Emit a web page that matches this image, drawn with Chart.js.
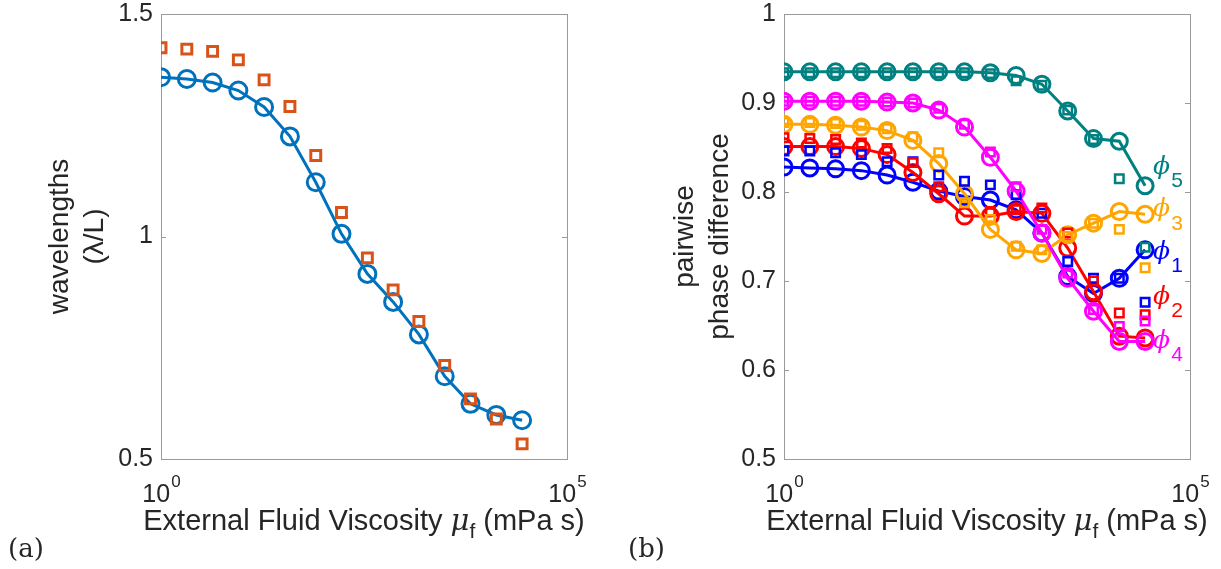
<!DOCTYPE html>
<html>
<head>
<meta charset="utf-8">
<script src="https://cdn.jsdelivr.net/npm/chart.js@4.4.1/dist/chart.umd.min.js"></script>
<style>
  html, body { margin: 0; padding: 0; background: #fff; }
  #wrap { position: relative; width: 1221px; height: 569px; overflow: hidden; }
  .panel { position: absolute; top: 0; }
  #left { left: 0; }
  #right { left: 615px; }
</style>
</head>
<body>
<div id="wrap">
  <div class="panel" id="left"><canvas id="chart-a" width="615" height="569"></canvas></div>
  <div class="panel" id="right"><canvas id="chart-b" width="606" height="569"></canvas></div>
</div>
<script>
// ---------------------------------------------------------------- data
const viscosity = [1, 2.08, 4.32, 8.97, 18.6, 38.7, 80.5, 167, 348, 722, 1500, 3120, 6480, 13470, 28000];

// panel (a): wavelengths
const waveModel = [1.358, 1.354, 1.346, 1.328, 1.291, 1.225, 1.122, 1.006, 0.916, 0.853, 0.780, 0.686, 0.624, 0.599, 0.587];
const waveExp   = [1.424, 1.421, 1.416, 1.397, 1.352, 1.292, 1.182, 1.054, 0.952, 0.880, 0.809, 0.710, 0.635, 0.590, 0.534];

// panel (b): pairwise phase differences (circles = model, squares = experiment)
const phi1Model = [0.828, 0.827, 0.826, 0.824, 0.819, 0.811, 0.801, 0.795, 0.791, 0.780, 0.754, 0.705, 0.686, 0.703, 0.735];
const phi1Exp   = [0.846, 0.846, 0.844, 0.842, 0.834, 0.834, 0.819, 0.812, 0.808, 0.797, 0.776, 0.722, 0.703, 0.703, 0.676];
const phi2Model = [0.851, 0.851, 0.851, 0.849, 0.842, 0.822, 0.798, 0.773, 0.773, 0.778, 0.776, 0.737, 0.688, 0.638, 0.636];
const phi2Exp   = [0.861, 0.860, 0.859, 0.855, 0.849, 0.833, 0.806, 0.788, 0.778, 0.780, 0.782, 0.754, 0.700, 0.664, 0.662];
const phi3Model = [0.876, 0.876, 0.875, 0.873, 0.869, 0.858, 0.832, 0.798, 0.758, 0.735, 0.731, 0.752, 0.765, 0.778, 0.775];
const phi3Exp   = [0.878, 0.878, 0.877, 0.875, 0.871, 0.862, 0.844, 0.788, 0.769, 0.739, 0.735, 0.750, 0.765, 0.758, 0.715];
const phi4Model = [0.902, 0.902, 0.902, 0.902, 0.901, 0.900, 0.892, 0.873, 0.839, 0.801, 0.754, 0.703, 0.666, 0.632, 0.632];
const phi4Exp   = [0.902, 0.902, 0.902, 0.902, 0.901, 0.900, 0.894, 0.876, 0.845, 0.806, 0.758, 0.709, 0.668, 0.649, 0.655];
const phi5Model = [0.935, 0.935, 0.935, 0.935, 0.935, 0.935, 0.935, 0.935, 0.934, 0.931, 0.921, 0.891, 0.860, 0.857, 0.807];
const phi5Exp   = [0.934, 0.934, 0.934, 0.934, 0.934, 0.934, 0.934, 0.934, 0.933, 0.925, 0.920, 0.892, 0.859, 0.815, 0.738];

// label positions for the phi tags (value on the y axis next to last point)
const phiLabels = [
  { n: '5', y: 0.828, color: '#008080' },
  { n: '3', y: 0.780, color: '#FFA500' },
  { n: '1', y: 0.732, color: '#0000FF' },
  { n: '2', y: 0.682, color: '#FF0000' },
  { n: '4', y: 0.632, color: '#FF00FF' },
];

const pts = (ys) => ys.map((y, i) => ({ x: viscosity[i], y }));
const INK = '#262626';
const SANS = "'Liberation Sans', Arial, sans-serif";

/*------------------------------------------------ helpers ---------------------------------------------------*/
function circles(ys, color, r = 8.5, w = 3) {
  return {
    type: 'line', data: pts(ys), borderColor: color, borderWidth: w,
    pointStyle: 'circle', pointRadius: r, pointHoverRadius: r,
    pointBorderColor: color, pointBackgroundColor: 'rgba(0,0,0,0)', pointBorderWidth: w,
    tension: 0, fill: false
  };
}
function squares(ys, color, r = 7, w = 3) {
  return {
    type: 'line', data: pts(ys), showLine: false, borderColor: color,
    pointStyle: 'rect', pointRadius: r, pointHoverRadius: r,
    pointBorderColor: color, pointBackgroundColor: 'rgba(0,0,0,0)', pointBorderWidth: w
  };
}

// box, inward ticks, x tick labels with superscripts, x title with subscript
const frame = {
  id: 'frame',
  beforeDatasetsDraw(chart) {
    const { ctx, chartArea: a, scales } = chart;
    ctx.save();
    ctx.strokeStyle = '#9a9a9a';
    ctx.lineWidth = 1;
    ctx.strokeRect(Math.round(a.left) + 0.5, Math.round(a.top) + 0.5,
      Math.round(a.right - a.left), Math.round(a.bottom - a.top));
    ctx.beginPath();
    scales.y.ticks.forEach(t => {
      const py = Math.round(scales.y.getPixelForValue(t.value)) + 0.5;
      ctx.moveTo(a.left, py); ctx.lineTo(a.left + 5, py);
      ctx.moveTo(a.right, py); ctx.lineTo(a.right - 5, py);
    });
    ctx.stroke();
    ctx.restore();
  },
  afterDraw(chart, args, opts) {
    const { ctx, chartArea: a, scales } = chart;
    ctx.save();
    ctx.fillStyle = INK;
    ctx.textBaseline = 'alphabetic';
    // x tick labels 10^0, 10^5
    [1, 100000].forEach(v => {
      const px = scales.x.getPixelForValue(v);
      const exp = String(Math.round(Math.log10(v)));
      ctx.font = `25px ${SANS}`;
      const wb = ctx.measureText('10').width;
      ctx.font = `17px ${SANS}`;
      const we = ctx.measureText(exp).width;
      const x0 = px - (wb + we) / 2;
      ctx.font = `25px ${SANS}`;
      ctx.textAlign = 'left';
      ctx.fillText('10', x0, a.bottom + 43);
      ctx.font = `17px ${SANS}`;
      ctx.fillText(exp, x0 + wb + 1, a.bottom + 28);
    });
    // x title
    const parts = [
      { t: 'External Fluid Viscosity ', f: `29px ${SANS}`, dy: 0 },
      { t: 'μ', f: `italic 29px 'DejaVu Serif', serif`, dy: 0 },
      { t: 'f', f: `21px ${SANS}`, dy: 8 },
      { t: ' (mPa s)', f: `29px ${SANS}`, dy: 0 },
    ];
    let total = 0;
    parts.forEach(p => { ctx.font = p.f; p.w = ctx.measureText(p.t).width; total += p.w; });
    let x = (a.left + a.right) / 2 - total / 2;
    const base = a.bottom + 71;
    parts.forEach(p => { ctx.font = p.f; ctx.fillText(p.t, x, base + p.dy); x += p.w; });
    // panel tag
    ctx.font = `26px 'DejaVu Serif', 'Liberation Serif', serif`;
    ctx.fillText(opts.tag, opts.tagX, 557);
    // phi tags
    (opts.phi || []).forEach(l => {
      const px = scales.x.getPixelForValue(viscosity[viscosity.length - 1]) + 8;
      const py = scales.y.getPixelForValue(l.y);
      ctx.fillStyle = l.color;
      ctx.font = `italic 25px 'DejaVu Serif', serif`;
      ctx.textBaseline = 'middle';
      ctx.fillText('ϕ', px, py);
      const w = ctx.measureText('ϕ').width;
      ctx.font = `21px ${SANS}`;
      ctx.fillText(l.n, px + w + 1, py + 14);
    });
    ctx.restore();
  }
};

function baseOptions(yMin, yMax, step, yWidth, padRight, yTitle, titlePad, tag, tagX, phi) {
  return {
    responsive: false,
    animation: false,
    devicePixelRatio: 1,
    layout: { padding: { top: 14, right: padRight, bottom: 0, left: 0 } },
    plugins: { legend: { display: false }, tooltip: { enabled: false }, frame: { tag, tagX, phi } },
    scales: {
      x: {
        type: 'logarithmic', min: 1, max: 100000,
        grid: { display: false, drawTicks: false }, border: { display: false },
        ticks: { display: false },
        afterFit: (s) => { s.height = 110; s.paddingLeft = 0; s.paddingRight = 0; }
      },
      y: {
        type: 'linear', min: yMin, max: yMax,
        grid: { display: false, drawTicks: false }, border: { display: false },
        ticks: { stepSize: step, padding: 8, color: INK, font: { size: 25, family: SANS },
                 callback: (v) => String(+v.toFixed(2)) },
        title: { display: true, text: yTitle, color: INK, padding: { top: titlePad, bottom: 0 },
                 font: { size: 28, family: SANS, lineHeight: 1.25 } },
        afterFit: (s) => { s.width = yWidth; s.paddingTop = 0; s.paddingBottom = 0; }
      }
    }
  };
}

new Chart(document.getElementById('chart-a'), {
  type: 'line',
  data: {
    datasets: [
      squares(waveExp, '#D95319'),
      circles(waveModel, '#0072BD'),
    ]
  },
  options: baseOptions(0.5, 1.5, 0.5, 161, 48, ['wavelengths', '(λ/L)'], 43, '(a)', 8, null),
  plugins: [frame]
});

new Chart(document.getElementById('chart-b'), {
  type: 'line',
  data: {
    datasets: [
      squares(phi5Exp, '#008080', 6, 2.5),
      squares(phi4Exp, '#FF00FF', 6, 2.5),
      squares(phi3Exp, '#FFA500', 6, 2.5),
      squares(phi2Exp, '#FF0000', 6, 2.5),
      squares(phi1Exp, '#0000FF', 6, 2.5),
      circles(phi5Model, '#008080', 8, 3),
      circles(phi4Model, '#FF00FF', 8, 3),
      circles(phi3Model, '#FFA500', 8, 3),
      circles(phi2Model, '#FF0000', 8, 3),
      circles(phi1Model, '#0000FF', 8, 3),
    ]
  },
  options: baseOptions(0.5, 1, 0.1, 169, 31, ['pairwise', 'phase difference'], 53, '(b)', 13, phiLabels),
  plugins: [frame]
});
</script>
</body>
</html>
